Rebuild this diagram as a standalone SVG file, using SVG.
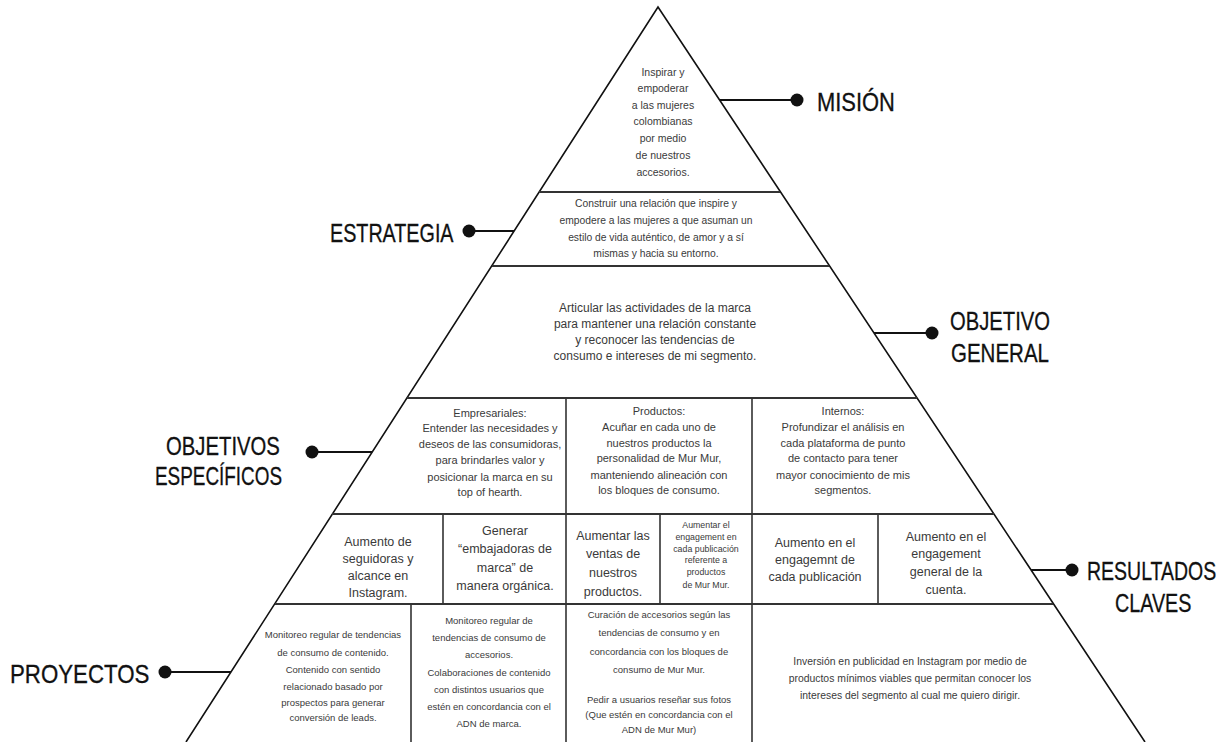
<svg xmlns="http://www.w3.org/2000/svg" width="1232" height="742" viewBox="0 0 1232 742">
<style>
.edge{fill:none;stroke:#111;stroke-width:1.6}
.hl{stroke:#333;stroke-width:2}
.vl{stroke:#333;stroke-width:1.6}
.t{font-family:"Liberation Sans",Arial,sans-serif;fill:#3a3a3a;text-anchor:middle}
.s105{font-size:10.5px}.s10{font-size:10.3px}.s12{font-size:12px}.s11{font-size:11px}
.s125{font-size:12.5px}.s8{font-size:8.8px}.s95{font-size:9.5px}.s10b{font-size:10.4px}
.lab{font-family:"Liberation Sans",Arial,sans-serif;font-size:26px;fill:#111;stroke:#111;stroke-width:0.3}
.con{stroke:#111;stroke-width:2}
.dot{fill:#111}
</style>
<rect width="1232" height="742" fill="#fff"/>
<g id="pyramid">
<path class="edge" d="M186,742 L658,7 L1145,742"/>
<line class="hl" x1="539" y1="192" x2="780" y2="192"/>
<line class="hl" x1="492" y1="266" x2="829" y2="266"/>
<line class="hl" x1="407" y1="398" x2="917" y2="398"/>
<line class="hl" x1="332" y1="514" x2="994" y2="514"/>
<line class="hl" x1="275" y1="604" x2="1053" y2="604"/>
<line class="vl" x1="566" y1="398" x2="566" y2="742"/>
<line class="vl" x1="752" y1="398" x2="752" y2="742"/>
<line class="vl" x1="443" y1="514" x2="443" y2="604"/>
<line class="vl" x1="660" y1="514" x2="660" y2="604"/>
<line class="vl" x1="878" y1="514" x2="878" y2="604"/>
<line class="vl" x1="411" y1="604" x2="411" y2="742"/>
</g>
<g id="mision">
<text class="t s105" x="663"><tspan x="663" y="76">Inspirar y</tspan><tspan x="663" y="92">empoderar</tspan><tspan x="663" y="109">a las mujeres</tspan><tspan x="663" y="125">colombianas</tspan><tspan x="663" y="142">por medio</tspan><tspan x="663" y="159">de nuestros</tspan><tspan x="663" y="176">accesorios.</tspan></text>
</g>
<g id="estrategia">
<text class="t s10"><tspan x="656" y="207">Construir una relación que inspire y</tspan><tspan x="656" y="224">empodere a las mujeres a que asuman un</tspan><tspan x="656" y="241">estilo de vida auténtico, de amor y a sí</tspan><tspan x="656" y="257">mismas y hacia su entorno.</tspan></text>
</g>
<g id="objetivo-general">
<text class="t s12"><tspan x="655" y="312">Articular las actividades de la marca</tspan><tspan x="655" y="328">para mantener una relación constante</tspan><tspan x="655" y="344">y reconocer las tendencias de</tspan><tspan x="655" y="360">consumo e intereses de mi segmento.</tspan></text>
</g>
<g id="oe-empresariales">
<text class="t s11"><tspan x="490" y="417">Empresariales:</tspan><tspan x="490" y="432">Entender las necesidades y</tspan><tspan x="490" y="448">deseos de las consumidoras,</tspan><tspan x="490" y="464">para brindarles valor y</tspan><tspan x="490" y="481">posicionar la marca en su</tspan><tspan x="490" y="496">top of hearth.</tspan></text>
</g>
<g id="oe-productos">
<text class="t s11"><tspan x="659" y="415">Productos:</tspan><tspan x="659" y="431">Acuñar en cada uno de</tspan><tspan x="659" y="447">nuestros productos la</tspan><tspan x="659" y="462">personalidad de Mur Mur,</tspan><tspan x="659" y="479">manteniendo alineación con</tspan><tspan x="659" y="494">los bloques de consumo.</tspan></text>
</g>
<g id="oe-internos">
<text class="t s11"><tspan x="843" y="415">Internos:</tspan><tspan x="843" y="431">Profundizar el análisis en</tspan><tspan x="843" y="447">cada plataforma de punto</tspan><tspan x="843" y="462">de contacto para tener</tspan><tspan x="843" y="479">mayor conocimiento de mis</tspan><tspan x="843" y="494">segmentos.</tspan></text>
</g>
<g id="rc-seguidoras">
<text class="t s125"><tspan x="378" y="546">Aumento de</tspan><tspan x="378" y="563">seguidoras y</tspan><tspan x="378" y="580">alcance en</tspan><tspan x="378" y="597">Instagram.</tspan></text>
</g>
<g id="rc-embajadoras">
<text class="t s125"><tspan x="505" y="535">Generar</tspan><tspan x="505" y="553">“embajadoras de</tspan><tspan x="505" y="572">marca” de</tspan><tspan x="505" y="590">manera orgánica.</tspan></text>
</g>
<g id="rc-ventas">
<text class="t s125"><tspan x="613" y="540">Aumentar las</tspan><tspan x="613" y="558">ventas de</tspan><tspan x="613" y="577">nuestros</tspan><tspan x="613" y="596">productos.</tspan></text>
</g>
<g id="rc-engagement-productos">
<text class="t s8"><tspan x="706" y="528">Aumentar el</tspan><tspan x="706" y="540">engagement en</tspan><tspan x="706" y="552">cada publicación</tspan><tspan x="706" y="563">referente a</tspan><tspan x="706" y="575">productos</tspan><tspan x="706" y="588">de Mur Mur.</tspan></text>
</g>
<g id="rc-engagement-publicacion">
<text class="t s125"><tspan x="815" y="547">Aumento en el</tspan><tspan x="815" y="564">engagemnt de</tspan><tspan x="815" y="581">cada publicación</tspan></text>
</g>
<g id="rc-engagement-general">
<text class="t s125"><tspan x="946" y="541">Aumento en el</tspan><tspan x="946" y="558">engagement</tspan><tspan x="946" y="576">general de la</tspan><tspan x="946" y="594">cuenta.</tspan></text>
</g>
<g id="p-contenido">
<text class="t s95"><tspan x="333" y="638">Monitoreo regular de tendencias</tspan><tspan x="333" y="656">de consumo de contenido.</tspan><tspan x="333" y="673">Contenido con sentido</tspan><tspan x="333" y="690">relacionado basado por</tspan><tspan x="333" y="706">prospectos para generar</tspan><tspan x="333" y="721">conversión de leads.</tspan></text>
</g>
<g id="p-accesorios">
<text class="t s95"><tspan x="489" y="624">Monitoreo regular de</tspan><tspan x="489" y="641">tendencias de consumo de</tspan><tspan x="489" y="658">accesorios.</tspan><tspan x="489" y="676">Colaboraciones de contenido</tspan><tspan x="489" y="693">con distintos usuarios que</tspan><tspan x="489" y="710">estén en concordancia con el</tspan><tspan x="489" y="727">ADN de marca.</tspan></text>
</g>
<g id="p-curacion">
<text class="t s95"><tspan x="659" y="618">Curación de accesorios según las</tspan><tspan x="659" y="636">tendencias de consumo y en</tspan><tspan x="659" y="655">concordancia con los bloques de</tspan><tspan x="659" y="673">consumo de Mur Mur.</tspan><tspan x="659" y="703">Pedir a usuarios reseñar sus fotos</tspan><tspan x="659" y="718">(Que estén en concordancia con el</tspan><tspan x="659" y="733">ADN de Mur Mur)</tspan></text>
</g>
<g id="p-inversion">
<text class="t s10b"><tspan x="910" y="665">Inversión en publicidad en Instagram por medio de</tspan><tspan x="910" y="682">productos mínimos viables que permitan conocer los</tspan><tspan x="910" y="699">intereses del segmento al cual me quiero dirigir.</tspan></text>
</g>
<g id="connectors">
<line class="con" x1="720" y1="100" x2="797" y2="100"/>
<line class="con" x1="469" y1="231" x2="514" y2="231"/>
<line class="con" x1="874" y1="333" x2="932" y2="333"/>
<line class="con" x1="312" y1="452" x2="372" y2="452"/>
<line class="con" x1="1031" y1="570" x2="1072" y2="570"/>
<line class="con" x1="165" y1="672" x2="231" y2="672"/>
</g>
<g id="label-mision"><circle class="dot" cx="797" cy="100" r="6.5"/><text class="lab" transform="translate(817,111) scale(0.843,1)">MISIÓN</text></g>
<g id="label-estrategia"><circle class="dot" cx="469" cy="231" r="6.5"/><text class="lab" transform="translate(330,242) scale(0.759,1)">ESTRATEGIA</text></g>
<g id="label-objetivo-general"><circle class="dot" cx="932" cy="333" r="6.5"/><text class="lab" transform="translate(950,330) scale(0.778,1)">OBJETIVO</text><text class="lab" transform="translate(951,362) scale(0.789,1)">GENERAL</text></g>
<g id="label-objetivos-especificos"><circle class="dot" cx="312" cy="452" r="6.5"/><text class="lab" transform="translate(166,455) scale(0.781,1)">OBJETIVOS</text><text class="lab" transform="translate(155,485) scale(0.727,1)">ESPECÍFICOS</text></g>
<g id="label-resultados"><circle class="dot" cx="1072" cy="570" r="6.5"/><text class="lab" transform="translate(1087,580) scale(0.75,1)">RESULTADOS</text><text class="lab" transform="translate(1115,612) scale(0.76,1)">CLAVES</text></g>
<g id="label-proyectos"><circle class="dot" cx="165" cy="672" r="6.5"/><text class="lab" transform="translate(10,683) scale(0.857,1)">PROYECTOS</text></g>
</svg>
